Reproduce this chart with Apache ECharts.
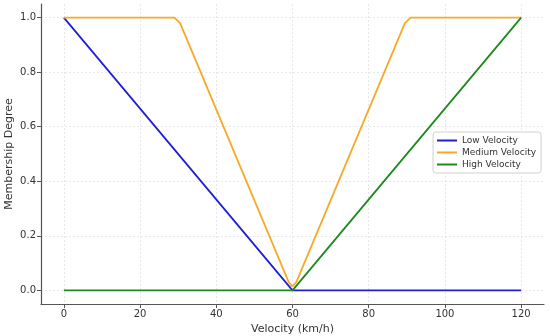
<!DOCTYPE html>
<html>
<head>
<meta charset="utf-8">
<script src="https://cdn.jsdelivr.net/npm/echarts@6/dist/echarts.min.js"></script>
<style>html,body{margin:0;padding:0;background:#fff;}#c{width:550px;height:336px;}</style>
</head>
<body>
<div id="c"></div>
<script>
var xTicks = [0, 20, 40, 60, 80, 100, 120];
var yTicks = [0, 0.2, 0.4, 0.6, 0.8, 1.0];
var seriesNames = ['Low Velocity', 'Medium Velocity', 'High Velocity'];
var lowVelocity = [[0, 1], [60, 0], [120, 0]];
var mediumVelocity = [[0, 1], [29, 1], [30.5, 0.98], [59, 0.03], [60, 0.015], [61, 0.03], [89.5, 0.98], [91, 1], [120, 1]];
var highVelocity = [[0, 0], [60, 0], [120, 1]];
var colors = ['#1f1fd6', '#f7a928', '#1a8a1a'];

var chart = echarts.init(document.getElementById('c'), null, {renderer: 'canvas'});
var font = 'DejaVu Sans';
function mk(name, data, color) {
  return {name: name, type: 'line', data: data, showSymbol: false, symbol: 'none',
    lineStyle: {color: color, width: 1.8}, itemStyle: {color: color}, animation: false};
}
chart.setOption({
  animation: false,
  grid: {left: 41, right: 6, top: 4, bottom: 32, containLabel: false, outerBoundsMode: 'none'},
  legend: {
    orient: 'vertical', left: 433, top: 132, itemWidth: 20, itemHeight: 2, itemGap: 3,
    icon: 'rect', padding: [4, 5, 4, 4], borderColor: '#d0d0d0', borderWidth: 1, borderRadius: 3,
    backgroundColor: '#fff', textStyle: {fontFamily: font, fontSize: 9, color: '#333'},
    data: seriesNames
  },
  xAxis: {
    type: 'value', min: -6, max: 126,
    name: 'Velocity (km/h)', nameLocation: 'middle', nameGap: 20, nameMoveOverlap: false,
    nameTextStyle: {fontFamily: font, fontSize: 11, color: '#333'},
    axisLine: {show: true, onZero: false, lineStyle: {color: '#555', width: 1.2}},
    axisTick: {show: true, customValues: xTicks, length: 4, lineStyle: {color: '#555'}},
    axisLabel: {customValues: xTicks, fontFamily: font, fontSize: 10, color: '#333', margin: 5},
    splitLine: {show: true, lineStyle: {color: '#e2e2e2', type: [2, 2], width: 0.8}}
  },
  yAxis: {
    type: 'value', min: -0.05, max: 1.05,
    name: 'Membership Degree', nameLocation: 'middle', nameGap: 26, nameMoveOverlap: false,
    nameTextStyle: {fontFamily: font, fontSize: 11, color: '#333'},
    axisLine: {show: true, onZero: false, lineStyle: {color: '#555', width: 1.2}},
    axisTick: {show: true, customValues: yTicks, length: 4, lineStyle: {color: '#555'}},
    axisLabel: {customValues: yTicks, fontFamily: font, fontSize: 10, color: '#333', margin: 5,
      formatter: function (v) { return v.toFixed(1); }},
    splitLine: {show: true, lineStyle: {color: '#e2e2e2', type: [2, 2], width: 0.8}}
  },
  series: [
    mk(seriesNames[0], lowVelocity, colors[0]),
    mk(seriesNames[1], mediumVelocity, colors[1]),
    mk(seriesNames[2], highVelocity, colors[2])
  ]
});
</script>
</body>
</html>
